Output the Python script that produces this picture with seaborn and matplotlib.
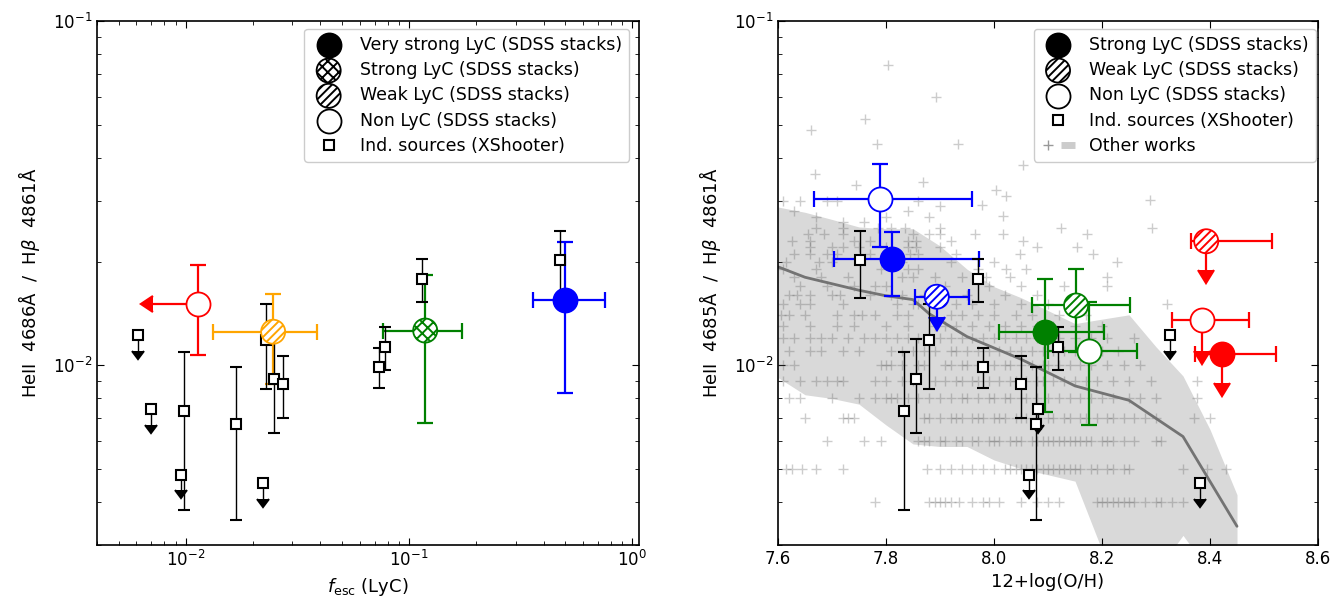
import matplotlib
matplotlib.use("Agg")
import matplotlib.pyplot as plt
import seaborn as sns
import pandas as pd
import numpy as np
from matplotlib.lines import Line2D
from matplotlib.legend_handler import HandlerTuple
from matplotlib.ticker import NullFormatter

# ---------------- data: left panel (SDSS stacks vs f_esc)
left_kind = ["filled", "cross", "hatch", "open"]
left_color = ["blue", "green", "orange", "red"]
left_fesc = [0.50, 0.118, 0.0246, 0.0113]
left_fesc_lo = [0.358, 0.076, 0.0132, 0.0071]
left_fesc_hi = [0.75, 0.173, 0.0387, 0.0113]
left_fesc_uplim = [False, False, False, True]
left_heii = [0.0155, 0.0126, 0.0125, 0.0151]
left_heii_lo = [0.0083, 0.0068, 0.0088, 0.0107]
left_heii_hi = [0.0228, 0.0183, 0.0161, 0.0195]
left_labels = ["Very strong LyC (SDSS stacks)", "Strong LyC (SDSS stacks)",
               "Weak LyC (SDSS stacks)", "Non LyC (SDSS stacks)"]

# ---------------- data: right panel (SDSS stacks vs metallicity)
right_kind = ["filled", "hatch", "open"] * 3
right_color = ["blue"] * 3 + ["green"] * 3 + ["red"] * 3
right_oh = [7.811, 7.894, 7.788, 8.094, 8.152, 8.175, 8.422, 8.393, 8.386]
right_oh_lo = [7.703, 7.853, 7.666, 8.009, 8.070, 8.100, 8.372, 8.365, 8.329]
right_oh_hi = [7.972, 7.954, 7.959, 8.204, 8.252, 8.264, 8.522, 8.515, 8.472]
right_heii = [0.0203, 0.0158, 0.0303, 0.0125, 0.0149, 0.0110, 0.0108, 0.0229, 0.0135]
right_heii_lo = [0.0159, 0.0138, 0.0220, 0.0073, 0.0109, 0.0067, 0.0089, 0.0189, 0.0110]
right_heii_hi = [0.0244, 0.0158, 0.0385, 0.0178, 0.0190, 0.0153, 0.0108, 0.0229, 0.0135]
right_uplim = [False, True, False, False, False, False, True, True, True]
right_labels = ["Strong LyC (SDSS stacks)", "Weak LyC (SDSS stacks)", "Non LyC (SDSS stacks)"]

# ---------------- data: individual XShooter sources (same objects in both panels)
ind_fesc = [0.0061, 0.0070, 0.0098, 0.0095, 0.0168, 0.0222, 0.0228, 0.0249, 0.0271,
            0.1146, 0.0783, 0.0732, 0.472]
ind_oh = [8.325, 8.081, 7.834, 8.064, 8.077, 8.381, 7.880, 7.855, 8.050,
          7.970, 8.119, 7.980, 7.751]
ind_heii = [0.01226, 0.00743, 0.00735, 0.00479, 0.00674, 0.00454, 0.0118, 0.00914, 0.0088,
            0.01783, 0.01132, 0.00989, 0.0202]
ind_heii_lo = [0.0110, 0.00668, 0.0038, 0.00433, 0.00354, 0.00409, 0.00854, 0.00634, 0.0070,
               0.0153, 0.0097, 0.0086, 0.0157]
ind_heii_hi = [0.01226, 0.00743, 0.0109, 0.00479, 0.0099, 0.00454, 0.0150, 0.0119, 0.0106,
               0.0203, 0.0129, 0.0112, 0.0246]
ind_uplim = [True, True, False, True, False, True, False, False, False,
             False, False, False, False]

# ---------------- data: other works (right panel)
ow_row_heii = [0.004, 0.005, 0.006, 0.007, 0.008, 0.009, 0.010, 0.011, 0.012,
               0.013, 0.014, 0.015, 0.016, 0.017, 0.018, 0.019, 0.020, 0.021,
               0.022, 0.023, 0.024, 0.025]
ow_row_oh = [
    [7.78, 7.88, 7.89, 7.90, 7.91, 7.92, 7.935, 7.96, 7.98, 7.99, 8.01, 8.05, 8.08, 8.10,
     8.12, 8.19, 8.20, 8.21, 8.22, 8.23, 8.24, 8.25, 8.26, 8.28, 8.30, 8.31, 8.33, 8.35],
    [7.615, 7.625, 7.645, 7.67, 7.72, 7.875, 7.90, 7.92, 7.94, 7.96, 7.98, 8.00, 8.02,
     8.03, 8.04, 8.05, 8.06, 8.07, 8.08, 8.09, 8.10, 8.11, 8.12, 8.13, 8.14, 8.15, 8.16,
     8.18, 8.19, 8.21, 8.22, 8.24, 8.25, 8.35, 8.395, 8.43],
    [7.69, 7.76, 7.79, 7.86, 7.87, 7.88, 7.90, 7.91, 7.93, 7.94, 7.96, 7.97, 7.99, 8.00,
     8.01, 8.03, 8.04, 8.05, 8.07, 8.08, 8.09, 8.10, 8.11, 8.12, 8.13, 8.14, 8.15, 8.16,
     8.17, 8.18, 8.20, 8.21, 8.22, 8.24, 8.26, 8.30, 8.31],
    [7.65, 7.72, 7.73, 7.74, 7.87, 7.88, 7.90, 7.92, 7.93, 7.94, 7.96, 7.97, 7.98, 8.00,
     8.01, 8.02, 8.04, 8.05, 8.06, 8.08, 8.10, 8.11, 8.13, 8.14, 8.16, 8.17, 8.19, 8.21,
     8.22, 8.24, 8.26, 8.28, 8.30, 8.37, 8.40],
    [7.62, 7.64, 7.70, 7.75, 7.78, 7.80, 7.81, 7.82, 7.84, 7.86, 7.88, 7.90, 7.92, 7.94,
     7.95, 7.97, 7.99, 8.00, 8.02, 8.03, 8.05, 8.06, 8.08, 8.10, 8.12, 8.14, 8.16, 8.18,
     8.20, 8.22, 8.25, 8.27, 8.30, 8.375],
    [7.61, 7.64, 7.67, 7.69, 7.71, 7.72, 7.78, 7.80, 7.83, 7.85, 7.89, 7.91, 7.93, 7.94,
     7.96, 7.97, 7.99, 8.01, 8.03, 8.04, 8.06, 8.08, 8.09, 8.11, 8.13, 8.15, 8.17, 8.19,
     8.22, 8.25, 8.29, 8.375],
    [7.61, 7.63, 7.79, 7.80, 7.81, 7.83, 7.86, 7.87, 7.91, 7.92, 7.94, 7.95, 7.97, 7.98,
     8.00, 8.02, 8.03, 8.05, 8.07, 8.09, 8.10, 8.12, 8.14, 8.16, 8.18, 8.21, 8.24, 8.27],
    [7.62, 7.66, 7.68, 7.72, 7.75, 7.81, 7.83, 7.85, 7.87, 7.89, 7.92, 7.93, 7.95, 7.97,
     7.99, 8.01, 8.03, 8.05, 8.07, 8.09, 8.11, 8.13, 8.15, 8.17, 8.20, 8.23],
    [7.61, 7.63, 7.66, 7.68, 7.70, 7.73, 7.76, 7.78, 7.80, 7.82, 7.84, 7.86, 7.90, 7.92,
     7.94, 7.96, 7.98, 8.00, 8.02, 8.04, 8.06, 8.08, 8.10, 8.12, 8.15, 8.18, 8.21, 8.26],
    [7.61, 7.66, 7.71, 7.74, 7.80, 7.84, 7.89, 7.91, 7.93, 7.96, 7.99, 8.02, 8.05, 8.08,
     8.11, 8.15, 8.20],
    [7.605, 7.62, 7.65, 7.71, 7.74, 7.755, 7.78, 7.82, 7.84, 7.92, 7.94, 7.97, 8.00, 8.04,
     8.07, 8.12, 8.17],
    [7.61, 7.64, 7.66, 7.72, 7.82, 7.85, 7.86, 7.93, 7.96, 8.00, 8.05, 8.10, 8.15, 8.32],
    [7.62, 7.635, 7.66, 7.70, 7.715, 7.77, 7.81, 7.83, 7.87, 7.95, 8.02, 8.08],
    [7.64, 7.69, 7.74, 7.78, 7.80, 7.91, 7.99, 8.05, 8.13, 8.21],
    [7.63, 7.68, 7.73, 7.83, 7.85, 7.89, 7.94, 7.985, 8.03, 8.21],
    [7.61, 7.67, 7.79, 7.84, 7.86, 7.97, 8.023, 8.06],
    [7.615, 7.675, 7.70, 7.83, 7.92, 8.00, 8.227],
    [7.63, 7.66, 7.69, 7.71, 7.77, 7.815, 7.845, 7.86, 7.93, 8.048, 8.184],
    [7.66, 7.70, 7.72, 7.75, 7.80, 7.84, 7.855, 7.90, 8.079, 8.153],
    [7.625, 7.66, 7.74, 7.77, 7.84, 7.855, 7.92, 8.054],
    [7.655, 7.685, 7.72, 7.85, 7.88, 7.90, 7.965, 8.017, 8.172],
    [7.67, 7.72, 7.785, 7.81, 7.835, 7.90, 8.124, 8.292],
]
ow_extra_oh = [7.803, 7.893, 7.762, 7.662, 7.783, 7.934, 8.054, 7.668, 7.744, 7.868,
               8.003, 8.022, 8.289, 7.977, 8.017, 7.61, 7.64, 7.69, 7.71, 7.86, 7.90,
               7.63, 7.67, 7.72, 7.76, 7.80, 7.84, 7.88]
ow_extra_heii = [0.0743, 0.060, 0.052, 0.0483, 0.0439, 0.0439, 0.0381, 0.036, 0.0334, 0.0341,
                 0.0322, 0.031, 0.0301, 0.0292, 0.0272, 0.030, 0.030, 0.030, 0.030, 0.030, 0.029,
                 0.028, 0.027, 0.026, 0.026, 0.027, 0.028, 0.027]

# median and 1-sigma band of other works
band_oh = [7.60, 7.65, 7.70, 7.75, 7.80, 7.85, 7.90, 7.95, 8.00, 8.05, 8.10, 8.15,
           8.20, 8.25, 8.30, 8.35, 8.40, 8.45]
band_hi = [0.0288, 0.0278, 0.0265, 0.0252, 0.0249, 0.0249, 0.0222, 0.0190, 0.0169, 0.0157,
           0.0144, 0.0132, 0.0136, 0.0140, 0.0113, 0.0093, 0.0065, 0.0042]
band_lo = [0.0092, 0.0082, 0.0080, 0.0077, 0.0067, 0.0059, 0.0058, 0.0058, 0.0053, 0.0050,
           0.0048, 0.0046, 0.0029, 0.0025, 0.0025, 0.0032, 0.0025, 0.0025]
med_oh = [7.60, 7.65, 7.75, 7.80, 7.85, 7.88, 7.95, 8.05, 8.15, 8.25, 8.35, 8.45]
med_heii = [0.0193, 0.0180, 0.0165, 0.0159, 0.0155, 0.0141, 0.0121, 0.0104, 0.0087,
            0.0079, 0.0062, 0.0034]

# ---------------- style
sns.set_style("ticks")
plt.rcParams.update({
    "font.family": ["DejaVu Sans"],
    "mathtext.fontset": "dejavusans",
    "font.size": 12,
    "axes.labelsize": 13,
    "xtick.labelsize": 12,
    "ytick.labelsize": 12,
    "legend.fontsize": 12.5,
    "legend.labelspacing": 0.42,
    "text.color": "black",
    "axes.labelcolor": "black",
    "axes.edgecolor": "black",
    "xtick.color": "black",
    "ytick.color": "black",
    "axes.linewidth": 1.2,
    "xtick.direction": "in",
    "ytick.direction": "in",
    "xtick.top": True,
    "ytick.right": True,
    "xtick.major.size": 5,
    "ytick.major.size": 5,
    "xtick.minor.size": 3,
    "ytick.minor.size": 3,
    "hatch.linewidth": 1.4,
})

CIRCLE_S = 300
HATCH = {"filled": None, "cross": "xxx", "hatch": "////", "open": None}


def color_caps(container, color):
    # arrow heads of upper limits take the errorbar colour
    for cl in container.lines[1]:
        cl.set_markerfacecolor(color)
        cl.set_markeredgecolor(color)


def draw_stack(ax, x, y, xlo, xhi, ylo, yhi, color, kind, xuplim=False, uplim=False):
    eb = ax.errorbar([x], [y], xerr=[[x - xlo], [xhi - x]], yerr=[[y - ylo], [yhi - y]],
                     fmt="none", ecolor=color, elinewidth=1.6, capsize=6, capthick=1.6,
                     xuplims=[xuplim], uplims=[uplim], zorder=3)
    color_caps(eb, color)
    face = color if kind == "filled" else "white"
    ax.scatter([x], [y], s=CIRCLE_S, facecolor=face, edgecolor=color,
               linewidths=1.3, hatch=HATCH[kind], zorder=5)


def draw_ind(ax, x):
    y = np.array(ind_heii)
    lo = y - np.array(ind_heii_lo)
    hi = np.array(ind_heii_hi) - y
    eb = ax.errorbar(x, y, yerr=[lo, hi], uplims=ind_uplim, fmt="s", ms=6.5,
                     mfc="white", mec="black", mew=1.5, ecolor="black", elinewidth=1,
                     capsize=4, capthick=1, zorder=4)
    color_caps(eb, "black")


def legend_handles(ax, kinds):
    hs = []
    for k in kinds:
        face = "black" if k == "filled" else "white"
        hs.append(ax.scatter([], [], s=CIRCLE_S, facecolor=face, edgecolor="black",
                             linewidths=1.3, hatch=HATCH[k]))
    hs.append(Line2D([], [], marker="s", ls="none", ms=6.5, mfc="white",
                     mec="black", mew=1.5))
    return hs


fig = plt.figure(figsize=(13.41, 5.98), dpi=100)
ax1 = fig.add_axes([97 / 1341, 0.0886, 542 / 1341, 0.8763])
ax2 = fig.add_axes([778 / 1341, 0.0886, 540 / 1341, 0.8763])

# ---------------- left panel
ax1.set_xscale("log")
ax1.set_yscale("log")
for i in range(len(left_fesc)):
    draw_stack(ax1, left_fesc[i], left_heii[i], left_fesc_lo[i], left_fesc_hi[i],
               left_heii_lo[i], left_heii_hi[i], left_color[i], left_kind[i],
               xuplim=left_fesc_uplim[i])
draw_ind(ax1, ind_fesc)
ax1.set_xlim(0.004, 1.07)
ax1.set_ylim(0.003, 0.1)
ax1.set_xlabel(r"$f_{\rm esc}$ (LyC)")
ax1.set_ylabel("HeII  4686Å  /  H$\\beta$  4861Å", labelpad=8)
h1 = legend_handles(ax1, left_kind)
ax1.legend(h1, left_labels + ["Ind. sources (XShooter)"], loc="upper right",
           bbox_to_anchor=(0.9815, 0.985), borderaxespad=0, edgecolor="0.8",
           framealpha=1)

# ---------------- right panel
ax2.set_yscale("log")
ow = pd.DataFrame({
    "oh": [v for row in ow_row_oh for v in row] + ow_extra_oh,
    "heii": [h for h, row in zip(ow_row_heii, ow_row_oh) for _ in row] + ow_extra_heii,
})
ax2.fill_between(band_oh, band_lo, band_hi, color="0.85", lw=0, zorder=0.5)
sns.scatterplot(data=ow, x="oh", y="heii", marker="+", color="0.35", alpha=0.3,
                s=60, linewidth=1, ax=ax2, legend=False, zorder=1)
sns.lineplot(x=med_oh, y=med_heii, color="0.45", lw=2, ax=ax2, zorder=2)
for i in range(len(right_oh)):
    draw_stack(ax2, right_oh[i], right_heii[i], right_oh_lo[i], right_oh_hi[i],
               right_heii_lo[i], right_heii_hi[i], right_color[i], right_kind[i],
               uplim=right_uplim[i])
draw_ind(ax2, ind_oh)
ax2.set_xlim(7.6, 8.6)
ax2.set_ylim(0.003, 0.1)
ax2.set_xticks([7.6, 7.8, 8.0, 8.2, 8.4, 8.6])
ax2.set_xlabel("12+log(O/H)")
ax2.set_ylabel("HeII  4685Å  /  H$\\beta$  4861Å", labelpad=8)
h2 = legend_handles(ax2, ["filled", "hatch", "open"])
h2.append((Line2D([], [], marker="+", ls="none", color="0.6", ms=7, mew=1),
           Line2D([], [], color="0.8", lw=5, solid_capstyle="butt")))
ax2.legend(h2, right_labels + ["Ind. sources (XShooter)", "Other works"],
           loc="upper right", bbox_to_anchor=(0.996, 0.985), borderaxespad=0,
           edgecolor="0.8", framealpha=1,
           handler_map={tuple: HandlerTuple(ndivide=None, pad=0.3)})

for ax in (ax1, ax2):
    ax.yaxis.set_minor_formatter(NullFormatter())
    ax.tick_params(which="both", top=True, right=True, direction="in")

fig.savefig("out.png", dpi=100)
